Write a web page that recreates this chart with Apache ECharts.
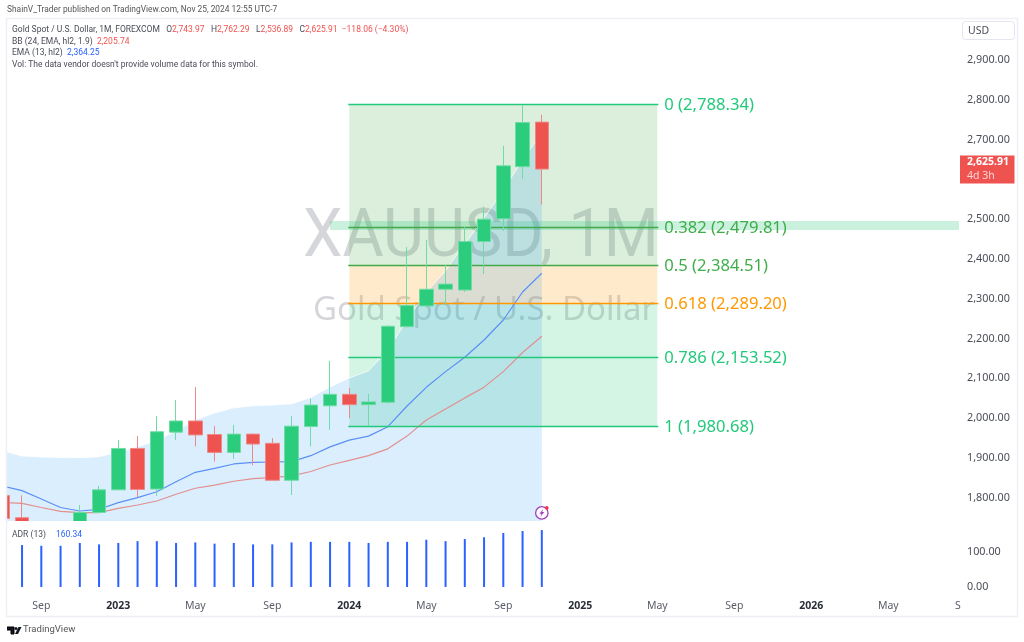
<!DOCTYPE html>
<html><head><meta charset="utf-8">
<style>html,body{margin:0;padding:0;background:#fff}#c{width:1024px;height:642px}</style>
<script src="https://cdn.jsdelivr.net/npm/echarts@6/dist/echarts.min.js"></script>
</head><body><div id="c"></div>
<script>
// month index: Sep 2022 = 0, so first entry (Jul 2022) = -2
const firstIdx = -2;
const months = ['Jul22','Aug22','Sep22','Oct22','Nov22','Dec22','Jan23','Feb23','Mar23','Apr23','May23','Jun23','Jul23','Aug23','Sep23','Oct23','Nov23','Dec23','Jan24','Feb24','Mar24','Apr24','May24','Jun24','Jul24','Aug24','Sep24','Oct24','Nov24'];
const opens  = [1806,1750,1711,1660,1633,1763,1820,1924,1822,1965,1993,1959,1914,1960,1937,1844,1979,2031,2060,2034,2040,2230,2282,2324,2322,2444,2501,2632,2743.97];
const closes = [1748,1711,1660,1633,1763,1820,1924,1821,1966,1993,1958,1914,1960,1935,1844,1980,2033,2060,2034,2041,2231,2283,2324,2337,2444,2500,2634,2743,2625.91];
const lows   = [1748,1688,1615,1617,1616,1763,1820,1802,1805,1945,1929,1891,1898,1882,1844,1807,1929,1971,2000,1981,2037,2228,2277,2284,2317,2362,2471,2601,2536.89];
const highs  = [1806,1806,1735,1730,1782,1830,1945,1955,2005,2046,2078,1980,1983,1962,1950,2005,2049,2144,2076,2061,2233,2430,2448,2385,2481,2531,2684,2787,2762.29];
const bbUpper = [1918,1905,1902.5,1901,1900.8,1903,1915,1927.6,1945,1968,1995.5,2013,2026,2031,2033,2036,2052,2078.4,2101,2119,2171,2247,2317,2370,2438,2503,2573,2649,2717];
const bbBasis = [1788,1786.2,1775.6,1766,1762.6,1762.6,1773.6,1781.9,1792,1809,1824,1832,1841.5,1848,1850.5,1855,1866,1882.4,1894,1906,1923,1955,1995.5,2023,2051,2078,2117,2165,2205.74];
const ema13 = [1829.6,1817.9,1797,1775.6,1766.8,1771.1,1787.7,1800.3,1815.3,1840.5,1864,1874,1885,1889,1890,1890.7,1905.8,1928,1945,1955,1978.6,2030.7,2077.6,2117,2153,2196.5,2246.7,2317,2364.25];
const adrMonths = months.slice(1);
const adr = [118,116,116,124,120,124,129,129,124,125.5,122,124,120,120,125.5,127,127,127,124,127,127,133,129,135,140,152,157.5,160.34];
const fibRatios = ['0','0.382','0.5','0.618','0.786','1'];
const fibPrices = [2788.34,2479.81,2384.51,2289.20,2153.52,1980.68];
const fibStartIdx = 16, fibEndIdx = 32;
const bandPrices = [2495.5,2473];
const bandStartIdx = 15;
const priceTicks = [1800,1900,2000,2100,2200,2300,2400,2500,2700,2800,2900];
const adrTicks = [0,100];
const xTickIdx = [0,4,8,12,16,20,24,28,32,36,40,44];
const xTickLabels = ['Sep','2023','May','Sep','2024','May','Sep','2025','May','Sep','2026','May'];
const lastClose = 2625.91;

const FONT = '"Noto Sans", sans-serif';
const SMALL = 'Roboto, sans-serif';
const xMin = -1.782, xMax = 47.62;
const idxOf = i => i + firstIdx;
const pair = arr => arr.map((v,i)=>[idxOf(i),v]);
const fmtPrice = v => Number(v).toLocaleString('en-US',{minimumFractionDigits:2,maximumFractionDigits:2});
const fibLine = ['#22c97a','#43a84a','#43a84a','#ff9800','#22c97a','#22c97a'];
const fibLabel = ['#22c97a','#3fae4a','#3fae4a','#ff9800','#22c97a','#22c97a'];
const fibFill = ['rgba(76,175,80,0.2)','rgba(76,175,80,0.2)','rgba(255,152,0,0.2)','rgba(38,200,120,0.2)','rgba(38,200,120,0.2)'];

const chart = echarts.init(document.getElementById('c'),null,{renderer:'canvas'});
const legendText = [
 '{g|Gold Spot / U.S. Dollar, 1M, FOREXCOM   O}{r|2,743.97}{g|   H}{r|2,762.29}{g|   L}{r|2,536.89}{g|   C}{r|2,625.91}{r|  −118.06 (−4.30%)}',
 '{g|BB (24, EMA, hl2, 1.9)  }{r|2,205.74}',
 '{g|EMA (13, hl2)  }{b|2,364.25}',
 '{g|Vol: The data vendor doesn\'t provide volume data for this symbol.}'
];
const rich = {g:{fill:'#4a4d57',fontSize:8.5,fontFamily:SMALL},r:{fill:'#ef5350',fontSize:8.5,fontFamily:SMALL},b:{fill:'#2962ff',fontSize:8.5,fontFamily:SMALL}};
const legendGraphics = legendText.map((t,i)=>({type:'text',left:12,top:[25,37,48,60][i],z:20,style:{rich,text:t}}));

chart.setOption({
 animation:false,
 backgroundColor:'#fff',
 grid:[{left:7,right:66,top:19,height:502},{left:7,right:66,top:522,height:71}],
 xAxis:[
  {type:'value',gridIndex:0,min:xMin,max:xMax,show:false},
  {type:'value',gridIndex:1,min:xMin,max:xMax,
   axisLine:{show:false},axisTick:{show:false},splitLine:{show:false},
   axisLabel:{show:true,margin:8,customValues:xTickIdx.concat([xMax]),
    formatter:v=>{const k=xTickIdx.indexOf(v);if(k<0)return '{n|S}';const t=xTickLabels[k];return /^\d/.test(t)?'{y|'+t+'}':'{n|'+t+'}';},
    rich:{n:{color:'#5a5d68',fontSize:10.5,fontFamily:FONT},y:{color:'#2a2e39',fontSize:10.5,fontWeight:'bold',fontFamily:FONT}}}}
 ],
 yAxis:[
  {type:'value',gridIndex:0,position:'right',min:1741.7,max:3003,scale:true,
   axisLine:{show:false},axisTick:{show:false},splitLine:{show:false},
   axisLabel:{margin:9,padding:[2,0,0,0],color:'#4a4d57',fontSize:10.8,fontFamily:FONT,customValues:priceTicks,formatter:fmtPrice}},
  {type:'value',gridIndex:1,position:'right',min:-17,max:183,
   axisLine:{show:false},axisTick:{show:false},splitLine:{show:false},
   axisLabel:{margin:9,color:'#4a4d57',fontSize:10.8,fontFamily:FONT,customValues:adrTicks,formatter:fmtPrice}}
 ],
 graphic:[
  {type:'text',left:7,top:6,z:20,style:{text:'ShainV_Trader published on TradingView.com, Nov 25, 2024 12:55 UTC-7',fill:'#555',fontSize:8.4,fontFamily:SMALL}},
  ...legendGraphics,
  // the candlestick series only drops boxes that are wholly outside: these panels trim the rest at the pane edge
  {type:'rect',shape:{x:0,y:19,width:6.5,height:575},z:6,style:{fill:'#fff'}},
  {type:'rect',shape:{x:0,y:521,width:959,height:73},z:6,style:{fill:'#fff'}},
  {type:'rect',shape:{x:6.5,y:18.5,width:1011,height:598},z:10,style:{fill:'none',stroke:'#eef0f6',lineWidth:1.5}},
  {type:'text',x:303,y:239,scaleY:1.07,z:1,style:{text:'XAUUSD, 1M',fill:'rgba(125,127,140,0.32)',fontSize:63,fontFamily:SMALL,verticalAlign:'middle'}},
  {type:'text',left:313,top:294,z:1,style:{text:'Gold Spot / U.S. Dollar',fill:'rgba(125,127,140,0.32)',fontSize:33,fontFamily:FONT}},
  {type:'rect',shape:{x:962.5,y:21.5,width:52,height:18,r:3},z:20,style:{fill:'#fff',stroke:'#e3e6ee',lineWidth:1}},
  {type:'text',left:968,top:26,z:21,style:{text:'USD',fill:'#4a4d57',fontSize:10.5,fontFamily:FONT}},
  {type:'text',left:12,top:529,z:20,style:{rich:{...rich},text:'{g|ADR (13)}   {b|160.34}'}},
  {type:'polyline',shape:{points:[[7,627],[14,627],[14,634],[11,634],[11,630],[7,630]]},z:20,style:{fill:'#131722'}},
  {type:'circle',shape:{cx:16,cy:628.5,r:1.5},z:20,style:{fill:'#131722'}},
  {type:'polygon',shape:{points:[[18.5,627],[21.5,627],[18,634],[15,634]]},z:20,style:{fill:'#131722'}},
  {type:'text',left:23,top:625,z:20,style:{text:'TradingView',fill:'#555',fontSize:9.5,fontFamily:SMALL}}
 ],
 series:[
  {type:'custom',name:'Fib fill',xAxisIndex:0,yAxisIndex:0,z:1,silent:true,
   data:fibPrices.slice(0,-1).map((p,i)=>[fibStartIdx,p,fibEndIdx,fibPrices[i+1]]),
   encode:{x:[0,2],y:[1,3]},
   renderItem:(params,api)=>{
    const a=api.coord([api.value(0),api.value(1)]),b=api.coord([api.value(2),api.value(3)]);
    return {type:'rect',shape:{x:a[0],y:a[1],width:b[0]-a[0],height:b[1]-a[1]},style:{fill:fibFill[params.dataIndex]}};
   }},
  {type:'custom',name:'Band',xAxisIndex:0,yAxisIndex:0,z:1,silent:true,
   data:[[bandStartIdx,bandPrices[0],xMax,bandPrices[1]]],encode:{x:[0,2],y:[1,3]},
   renderItem:(params,api)=>{
    const a=api.coord([api.value(0),api.value(1)]),b=api.coord([api.value(2),api.value(3)]);
    return {type:'rect',shape:{x:a[0],y:a[1],width:b[0]-a[0]+1,height:b[1]-a[1]},style:{fill:'rgba(38,200,120,0.25)'}};
   }},
  {type:'line',name:'BB',xAxisIndex:0,yAxisIndex:0,z:2,silent:true,symbol:'none',data:pair(bbUpper),
   lineStyle:{color:'rgba(255,255,255,0.75)',width:1},areaStyle:{color:'rgba(33,150,243,0.16)',origin:'start',opacity:1}},
  {type:'line',name:'BB basis',xAxisIndex:0,yAxisIndex:0,z:3,silent:true,symbol:'none',data:pair(bbBasis),lineStyle:{color:'#e28f8f',width:1.2}},
  {type:'line',name:'EMA',xAxisIndex:0,yAxisIndex:0,z:3,silent:true,symbol:'none',data:pair(ema13),lineStyle:{color:'#5b90f5',width:1.2}},
  {type:'custom',name:'Fib lines',xAxisIndex:0,yAxisIndex:0,z:4,silent:true,
   data:fibPrices.map((p)=>[fibStartIdx,p,fibEndIdx]),encode:{x:[0,2],y:1},
   renderItem:(params,api)=>{
    const i=params.dataIndex,p=api.value(1);
    const a=api.coord([api.value(0),p]),b=api.coord([api.value(2),p]);
    const y=Math.round(a[1])+0.5;
    return {type:'group',children:[
     {type:'line',shape:{x1:a[0]-1,y1:y,x2:b[0]+1,y2:y},style:{stroke:fibLine[i],lineWidth:1.4}},
     {type:'text',x:b[0]+7,y:a[1]+1,style:{text:fibRatios[i]+' ('+fmtPrice(p)+')',fill:fibLabel[i],fontSize:16.6,fontFamily:FONT,verticalAlign:'middle',align:'left'}}
    ]};
   }},
  {type:'candlestick',name:'XAUUSD',xAxisIndex:0,yAxisIndex:0,z:5,silent:true,barWidth:14,
   data:months.map((m,i)=>[idxOf(i),opens[i],closes[i],lows[i],highs[i]]),
   encode:{x:0,y:[1,2,3,4]},
   itemStyle:{color:'#2bcc7c',color0:'#ef5350',borderColor:'#6fdca5',borderColor0:'#ec8a88',borderWidth:1}},
  {type:'custom',name:'Last price',xAxisIndex:0,yAxisIndex:0,z:20,silent:true,clip:false,
   data:[[xMax,lastClose]],encode:{x:0,y:1},
   renderItem:(params,api)=>{
    const c=api.coord([api.value(0),api.value(1)]);
    const r=c[0]+2,y=c[1];
    return {type:'group',children:[
     {type:'rect',shape:{x:r,y:y-13.5,width:54.5,height:28},style:{fill:'#ef5350'}},
     {type:'text',x:r+7,y:y-7,style:{text:fmtPrice(api.value(1)),fill:'#fff',fontSize:10.5,fontWeight:'bold',fontFamily:FONT,verticalAlign:'middle'}},
     {type:'text',x:r+7,y:y+7,style:{text:'4d 3h',fill:'#fbd5d4',fontSize:10.5,fontFamily:FONT,verticalAlign:'middle'}}
    ]};
   }},
  {type:'custom',name:'Event',xAxisIndex:0,yAxisIndex:0,z:21,silent:true,
   data:[[idxOf(months.length-1),1762]],encode:{x:0,y:1},
   renderItem:(params,api)=>{
    const c=api.coord([api.value(0),api.value(1)]);
    const x=c[0],y=c[1];
    return {type:'group',x:x,y:y,children:[
     {type:'circle',shape:{cx:0,cy:0,r:6.2},style:{fill:'#fff',stroke:'#a43fc0',lineWidth:1.3}},
     {type:'polygon',shape:{points:[[1.5,-4],[-2.5,0.8],[-0.3,0.8],[-1.5,4],[2.5,-0.8],[0.3,-0.8]]},style:{fill:'#a43fc0'}},
     {type:'circle',shape:{cx:5,cy:-5,r:1.8},style:{fill:'#f23645'}}
    ]};
   }},
  {type:'bar',name:'ADR',xAxisIndex:1,yAxisIndex:1,silent:true,barWidth:2,z:7,
   data:adrMonths.map((m,i)=>[idxOf(i+1),adr[i]]),itemStyle:{color:'#2962ff'}}
 ]
});
</script></body></html>
